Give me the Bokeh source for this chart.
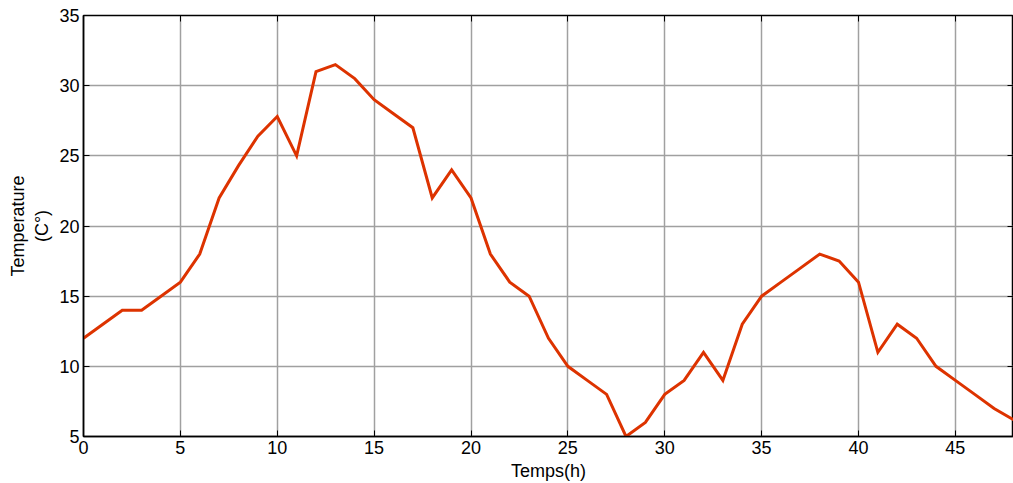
from bokeh.plotting import figure
from bokeh.models import LinearAxis, FixedTicker, Range1d
from bokeh.embed import file_html
from bokeh.resources import INLINE

hours = list(range(0, 49))
temperature = [12, 13, 14, 14, 15, 16, 18, 22, 24.3, 26.4,
               27.8, 25, 31, 31.5, 30.5, 29, 28, 27, 22, 24,
               22, 18, 16, 15, 12, 10, 9, 8, 5, 6,
               8, 9, 11, 9, 13, 15, 16, 17, 18, 17.5,
               16, 11, 13, 12, 10, 9, 8, 7, 6.2]
x_ticks = [0, 5, 10, 15, 20, 25, 30, 35, 40, 45]
y_ticks = [5, 10, 15, 20, 25, 30, 35]

FONT = "Liberation Sans"

p = figure(width=1013, height=483, output_backend="svg", toolbar_location=None,
           x_range=Range1d(0, 48), y_range=Range1d(5, 35),
           x_axis_label="Temps(h)", y_axis_label="Temperature\n(C°)",
           min_border_left=83, min_border_right=0, min_border_top=15, min_border_bottom=0)

p.line(hours, temperature, line_color="#dd3300", line_width=3, line_join="miter")

p.outline_line_color = "black"
p.outline_line_width = 1.5
p.background_fill_color = "white"
p.border_fill_color = "white"

for ax in [p.xaxis[0], p.yaxis[0]]:
    ax.major_tick_in = 6
    ax.major_tick_out = 0
    ax.minor_tick_line_color = None
    ax.major_label_text_font = FONT
    ax.major_label_text_font_size = "18px"
    ax.major_label_text_color = "black"
    ax.axis_label_text_font = FONT
    ax.axis_label_text_font_size = "18px"
    ax.axis_label_text_font_style = "normal"
    ax.axis_label_text_color = "black"
    ax.axis_line_color = "black"
    ax.axis_line_width = 1.5
    ax.major_tick_line_color = "black"

p.xaxis[0].ticker = FixedTicker(ticks=x_ticks)
p.yaxis[0].ticker = FixedTicker(ticks=y_ticks)
p.xaxis[0].major_label_standoff = 4
p.xaxis[0].axis_label_standoff = 4
p.yaxis[0].major_label_standoff = 4
p.yaxis[0].axis_label_standoff = 4

# inside ticks on the top and right edges, drawn as unlabeled minor ticks
top = LinearAxis(ticker=FixedTicker(ticks=[], minor_ticks=x_ticks),
                 minor_tick_in=6, minor_tick_out=0, major_tick_in=0, major_tick_out=0,
                 minor_tick_line_color="black", axis_line_color="black")
right = LinearAxis(ticker=FixedTicker(ticks=[], minor_ticks=y_ticks),
                   minor_tick_in=6, minor_tick_out=0, major_tick_in=0, major_tick_out=0,
                   minor_tick_line_color="black", axis_line_color="black")
p.add_layout(top, "above")
p.add_layout(right, "right")

p.xgrid.ticker = FixedTicker(ticks=x_ticks)
p.ygrid.ticker = FixedTicker(ticks=y_ticks)
p.grid.grid_line_color = "#a0a0a0"
p.grid.grid_line_width = 1.5

open("out.html", "w").write(file_html(p, INLINE))
